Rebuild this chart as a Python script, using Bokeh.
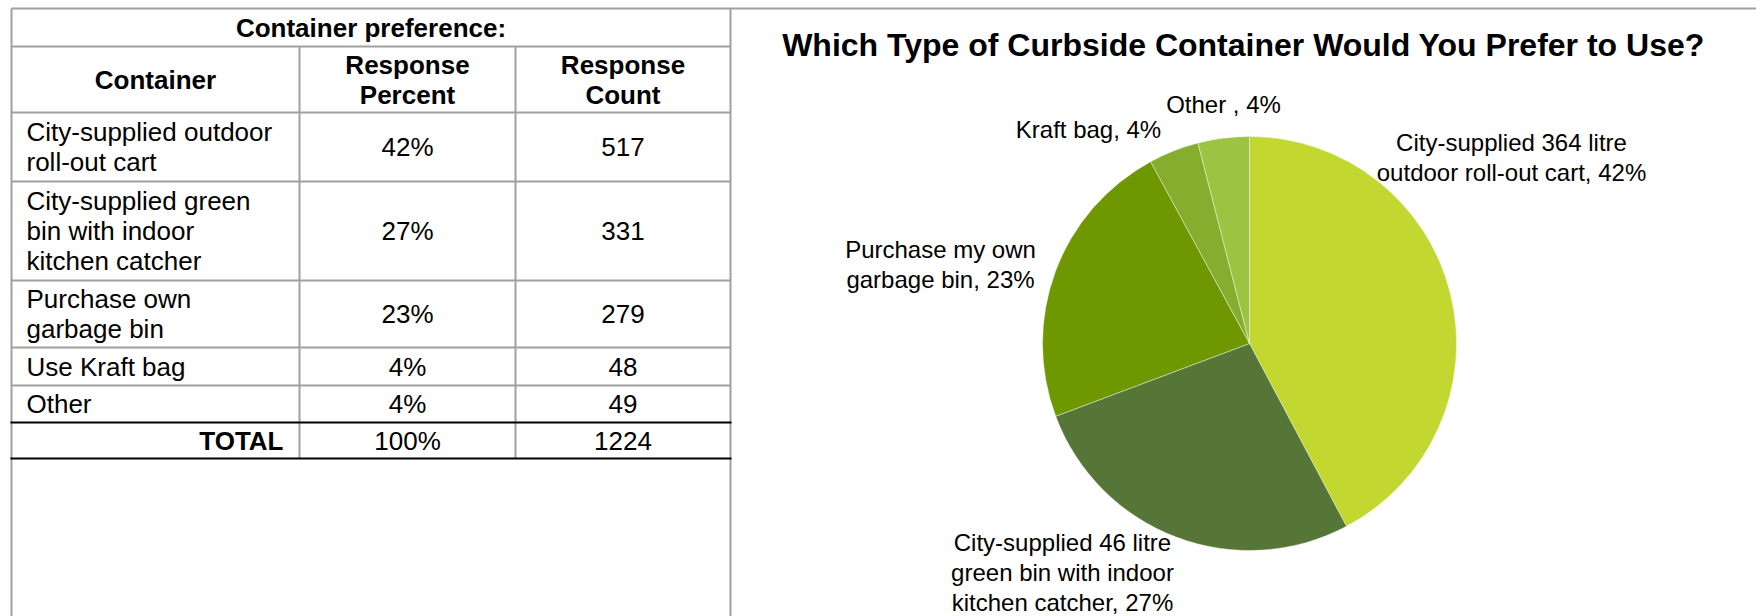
import numpy as np
from bokeh.plotting import figure
from bokeh.models import Range1d, ColumnDataSource
from bokeh.core.properties import value
from bokeh.embed import file_html
from bokeh.resources import INLINE

# ---------------- data ----------------
table_title = "Container preference:"
header_labels = ["Container", "Response\nPercent", "Response\nCount"]
containers = [
    "City-supplied outdoor\nroll-out cart",
    "City-supplied green\nbin with indoor\nkitchen catcher",
    "Purchase own\ngarbage bin",
    "Use Kraft bag",
    "Other",
]
percents = [42, 27, 23, 4, 4]
counts = [517, 331, 279, 48, 49]
total_label = "TOTAL"
total_percent = 100

chart_title = "Which Type of Curbside Container Would You Prefer to Use?"
pie_labels = [
    "City-supplied 364 litre\noutdoor roll-out cart, 42%",
    "City-supplied 46 litre\ngreen bin with indoor\nkitchen catcher, 27%",
    "Purchase my own\ngarbage bin, 23%",
    "Kraft bag, 4%",
    "Other , 4%",
]
pie_colors = ["#C2D72F", "#557637", "#6F9700", "#86AD2E", "#9CC342"]

# ---------------- layout (page pixel coords) ----------------
W, H = 1756, 616
def X(rx):
    return rx
def Y(ry):
    return H - ry

row_edges = [8, 46, 112, 181, 280, 347, 385, 422, 458]
col_edges = [11, 299, 515, 730]
FONT = value("Liberation Sans")
GRAY = "#A0A0A0"

p = figure(width=W, height=H, x_range=Range1d(0, W), y_range=Range1d(0, H),
           output_backend="svg", toolbar_location=None,
           x_axis_location=None, y_axis_location=None, min_border=0)
p.grid.visible = False
p.outline_line_color = None
p.background_fill_color = "white"

# ---- table lines ----
gx0, gy0, gx1, gy1 = [], [], [], []
gx0.append(X(col_edges[0])); gy0.append(Y(row_edges[0])); gx1.append(X(W + 5)); gy1.append(Y(row_edges[0]))
for ry in row_edges[1:7]:
    gx0.append(X(col_edges[0])); gy0.append(Y(ry)); gx1.append(X(col_edges[-1])); gy1.append(Y(ry))
for rx in (col_edges[0], col_edges[-1]):
    gx0.append(X(rx)); gy0.append(Y(row_edges[0])); gx1.append(X(rx)); gy1.append(Y(H + 5))
for rx in col_edges[1:3]:
    gx0.append(X(rx)); gy0.append(Y(row_edges[1])); gx1.append(X(rx)); gy1.append(Y(row_edges[-1]))
p.segment(gx0, gy0, gx1, gy1, line_color=GRAY, line_width=2)

bx = [X(col_edges[0] - 1)] * 2
bx1 = [X(col_edges[-1] + 1)] * 2
by = [Y(row_edges[7]), Y(row_edges[8])]
p.segment(bx, by, bx1, by, line_color="black", line_width=2)

# ---- table texts ----
centers = [(row_edges[i] + row_edges[i + 1]) / 2 for i in range(len(row_edges) - 1)]
col_centers = [(col_edges[i] + col_edges[i + 1]) / 2 for i in range(3)]

p.text(x=[X((col_edges[0] + col_edges[-1]) / 2)], y=[Y(centers[0])], text=[table_title],
       text_font=FONT, text_font_style="bold", text_font_size="26px",
       text_align="center", text_baseline="middle", text_color="black")
p.text(x=[X(c) for c in col_centers], y=[Y(centers[1])] * 3, text=header_labels,
       text_font=FONT, text_font_style="bold", text_font_size="26px",
       text_align="center", text_baseline="middle", text_line_height=1.0, text_color="black")

data_rows = centers[2:7]
p.text(x=[X(26)] * len(containers), y=[Y(c) for c in data_rows], text=containers,
       text_font=FONT, text_font_size="26px", text_align="left", text_baseline="middle",
       text_line_height=1.0, text_color="black")
p.text(x=[X(col_centers[1])] * len(percents), y=[Y(c) for c in data_rows],
       text=[f"{v}%" for v in percents], text_font=FONT, text_font_size="26px",
       text_align="center", text_baseline="middle", text_color="black")
p.text(x=[X(col_centers[2])] * len(counts), y=[Y(c) for c in data_rows],
       text=[str(v) for v in counts], text_font=FONT, text_font_size="26px",
       text_align="center", text_baseline="middle", text_color="black")
p.text(x=[X(283)], y=[Y(centers[7])], text=[total_label], text_font=FONT,
       text_font_style="bold", text_font_size="26px", text_align="right",
       text_baseline="middle", text_color="black")
p.text(x=[X(col_centers[1]), X(col_centers[2])], y=[Y(centers[7])] * 2,
       text=[f"{total_percent}%", str(sum(counts))], text_font=FONT, text_font_size="26px",
       text_align="center", text_baseline="middle", text_color="black")

# ---- pie chart ----
p.text(x=[X(1243)], y=[Y(44)], text=[chart_title], text_font=FONT, text_font_style="bold",
       text_font_size="32px", text_align="center", text_baseline="middle", text_color="black")

cnt = np.array(counts, dtype=float)
frac = np.concatenate([[0.0], np.cumsum(cnt) / cnt.sum()])
start_clock = np.pi / 2 - 2 * np.pi * frac[:-1]
end_clock = np.pi / 2 - 2 * np.pi * frac[1:]
src = ColumnDataSource(dict(start=end_clock, end=start_clock, color=pie_colors))
p.wedge(x=X(1249), y=Y(343), radius=207, start_angle="start", end_angle="end",
        fill_color="color", line_color="white", line_width=0.8, line_alpha=0.5, source=src)

label_pos = [(1511, 157), (1062, 572), (940, 264), (1088, 129), (1223, 104)]
p.text(x=[X(a) for a, b in label_pos], y=[Y(b) for a, b in label_pos], text=pie_labels,
       text_font=FONT, text_font_size="24px", text_align="center", text_baseline="middle",
       text_line_height=1.1, text_color="black")

open("out.html", "w").write(file_html(p, INLINE))
